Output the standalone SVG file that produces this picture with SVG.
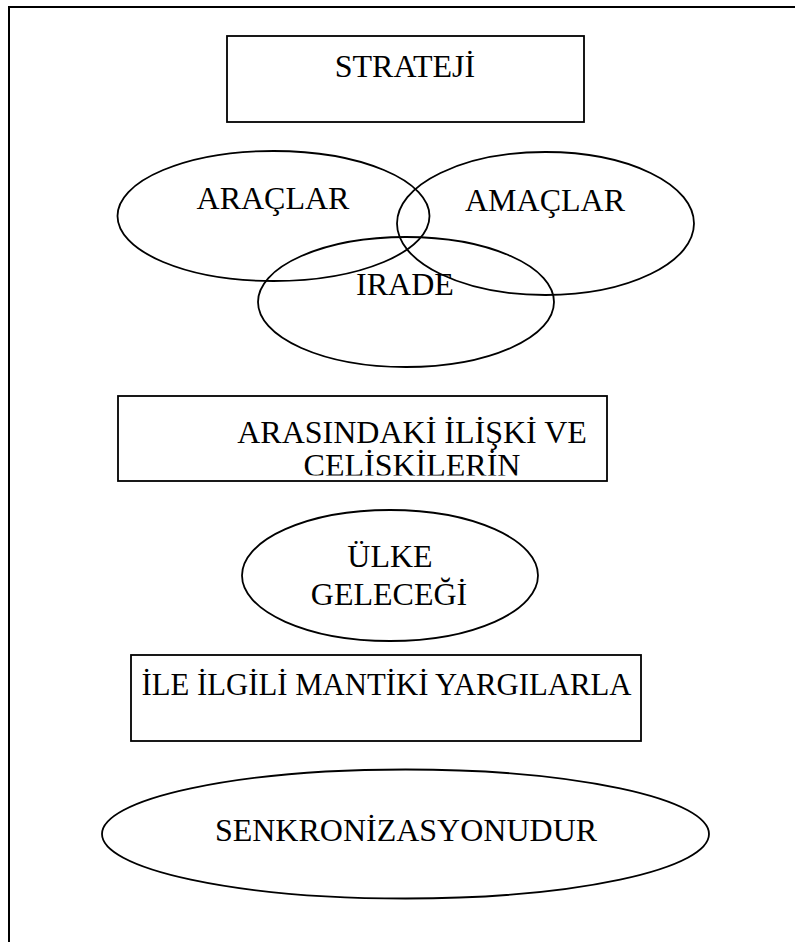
<svg xmlns="http://www.w3.org/2000/svg" width="795" height="942" viewBox="0 0 795 942">
  <style>
    .shape { fill: none; stroke: #000; stroke-width: 1.8; }
    .frame { fill: none; stroke: #000; stroke-width: 2; }
    .lbl { font-family: "Liberation Serif", "Times New Roman", serif; font-size: 32px; fill: #000; }
    .c { text-anchor: middle; }
  </style>
  <defs>
    <clipPath id="clipBox2">
      <rect x="118" y="396" width="489" height="79.5"/>
    </clipPath>
  </defs>
  <rect x="0" y="0" width="795" height="942" fill="#fff"/>
  <path class="frame" d="M9,950 V7 H800"/>

  <g id="strateji">
    <rect class="shape" x="227" y="36" width="357" height="86"/>
    <text class="lbl c" x="405" y="77">STRATEJİ</text>
  </g>

  <g id="araclar">
    <ellipse class="shape" cx="273.5" cy="216" rx="156" ry="65"/>
    <text class="lbl c" x="273" y="209">ARAÇLAR</text>
  </g>

  <g id="amaclar">
    <ellipse class="shape" cx="545.5" cy="223.5" rx="148.5" ry="71.5"/>
    <text class="lbl c" x="545" y="211">AMAÇLAR</text>
  </g>

  <g id="irade">
    <ellipse class="shape" cx="406" cy="302" rx="148" ry="65"/>
    <text class="lbl c" x="405" y="295">IRADE</text>
  </g>

  <g id="iliski">
    <rect class="shape" x="118" y="396" width="489" height="85"/>
    <g clip-path="url(#clipBox2)">
      <text class="lbl c" x="412" y="443">ARASINDAKİ İLİŞKİ VE</text>
      <text class="lbl c" x="412" y="476">ÇELİŞKİLERİN</text>
    </g>
  </g>

  <g id="ulke">
    <ellipse class="shape" cx="390" cy="575.5" rx="148" ry="65.5"/>
    <text class="lbl c" x="390" y="566.5">ÜLKE</text>
    <text class="lbl c" x="389" y="605">GELECEĞİ</text>
  </g>

  <g id="yargilar">
    <rect class="shape" x="131" y="655" width="510" height="86"/>
    <text class="lbl" x="141.5" y="695" textLength="490" lengthAdjust="spacingAndGlyphs">İLE İLGİLİ MANTİKİ YARGILARLA</text>
  </g>

  <g id="senkronizasyon">
    <ellipse class="shape" cx="405.5" cy="834" rx="303.5" ry="64.5"/>
    <text class="lbl c" x="406" y="840.5">SENKRONİZASYONUDUR</text>
  </g>

  <g id="connectors"/>
</svg>
